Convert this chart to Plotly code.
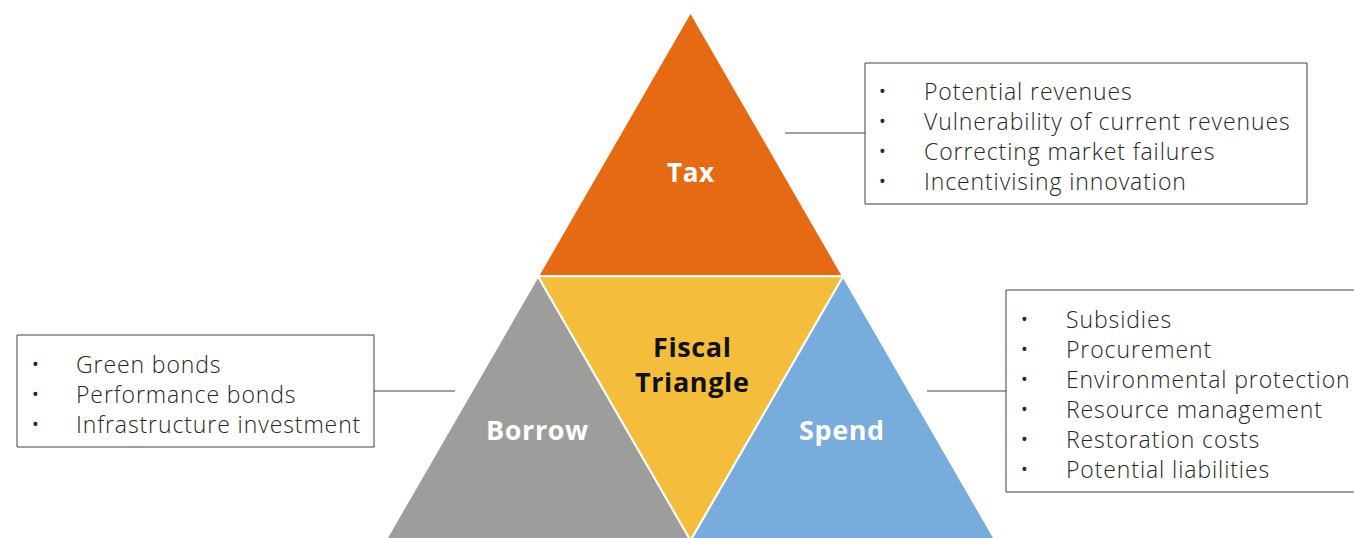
import plotly.graph_objects as go

# ---- data ----
segments = ["Tax", "Borrow", "Spend"]
segment_colors = ["#E66A13", "#9D9D9C", "#77ACDD"]
centre_label = ["Fiscal", "Triangle"]
centre_color = "#F4BE3C"
tax_items = ["Potential revenues", "Vulnerability of current revenues",
             "Correcting market failures", "Incentivising innovation"]
borrow_items = ["Green bonds", "Performance bonds", "Infrastructure investment"]
spend_items = ["Subsidies", "Procurement", "Environmental protection",
               "Resource management", "Restoration costs", "Potential liabilities"]

W, H = 1354, 538
FONT = "Open Sans"
TXT = "#262626"
EDGE = "#404040"

# geometry (pixel space)
apex = (690.5, 12)
side = 305
th = side * 3 ** 0.5 / 2
mid_y = apex[1] + th
bot_y = mid_y + th
xl, xr = apex[0] - side / 2, apex[0] + side / 2

fig = go.Figure()

def tri(xs, ys, color):
    fig.add_trace(go.Scatter(x=xs + [xs[0]], y=ys + [ys[0]], mode="lines", fill="toself",
                             fillcolor=color, line=dict(color="white", width=2),
                             hoverinfo="skip", showlegend=False))

tri([apex[0], xr, xl], [apex[1], mid_y, mid_y], segment_colors[0])
tri([xl, apex[0], xl - side / 2], [mid_y, bot_y, bot_y], segment_colors[1])
tri([xr, xr + side / 2, apex[0]], [mid_y, bot_y, bot_y], segment_colors[2])
tri([xl, xr, apex[0]], [mid_y, mid_y, bot_y], centre_color)

ann = []
def lab(x, y, t, color="white", size=27):
    ann.append(dict(x=x, y=y, text=f"<span style='letter-spacing:0.6px'><b>{t}</b></span>",
                    showarrow=False, xref="x", yref="y",
                    font=dict(family=FONT, size=size, color=color), xanchor="center", yanchor="middle"))

lab(691, 172, segments[0], size=26)
lab(537, 429, segments[1])
lab(842, 429, segments[2])
lab(692, 346, centre_label[0], color="#111111")
lab(692, 381, centre_label[1], color="#111111")

shapes = []
def box(x0, y0, x1, y1, items, first_y, bullet_x, text_x, line):
    shapes.append(dict(type="rect", xref="x", yref="y", x0=x0, y0=y0, x1=x1, y1=y1,
                       line=dict(color=EDGE, width=1), fillcolor="white", layer="above"))
    shapes.append(dict(type="line", xref="x", yref="y", x0=line[0], x1=line[1], y0=line[2], y1=line[2],
                       line=dict(color=EDGE, width=1)))
    for i, t in enumerate(items):
        y = first_y + 30 * i
        ann.append(dict(x=bullet_x, y=y, text="•", showarrow=False, xref="x", yref="y",
                        font=dict(family=FONT, size=18, color=TXT), xanchor="center", yanchor="middle"))
        ann.append(dict(x=text_x, y=y, text=f"<span style='letter-spacing:0.9px'>{t}</span>",
                        showarrow=False, xref="x", yref="y",
                        font=dict(family=FONT, size=23, color=TXT, weight=300),
                        xanchor="left", yanchor="middle"))

box(865, 63, 1307, 204, tax_items, 91, 882, 922, (785, 865, 133))
box(17, 335, 374, 447, borrow_items, 364, 35, 74, (374, 455, 391))
box(1006, 290, 1360, 492, spend_items, 319, 1024, 1064, (927, 1006, 391))

fig.update_layout(width=W, height=H, margin=dict(l=0, r=0, t=0, b=0),
                  paper_bgcolor="white", plot_bgcolor="white",
                  xaxis=dict(range=[0, W], visible=False, fixedrange=True),
                  yaxis=dict(range=[H, 0], visible=False, fixedrange=True),
                  annotations=ann, shapes=shapes)
fig.write_html("out.html", config={"displayModeBar": False},
               post_script="document.body.style.margin='0';document.body.style.padding='0';document.body.style.overflow='hidden';")
